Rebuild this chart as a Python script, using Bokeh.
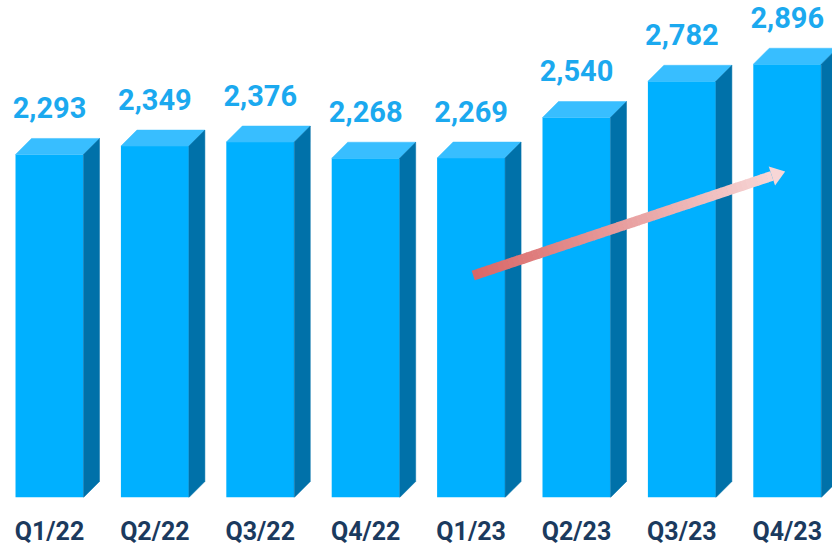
import numpy as np
from bokeh.plotting import figure
from bokeh.models import Range1d, FixedTicker
from bokeh.embed import file_html
from bokeh.resources import INLINE
from bokeh.core.properties import value

# ---- data ----
categories = ["Q1/22", "Q2/22", "Q3/22", "Q4/22", "Q1/23", "Q2/23", "Q3/23", "Q4/23"]
revenue = [2293, 2349, 2376, 2268, 2269, 2540, 2782, 2896]
value_labels = [f"{v:,}" for v in revenue]

# trend arrow (category index, value)
arrow_from = (4.02, 1484)
arrow_to = (6.98, 2179)

# ---- layout ----
FRAME_W, FRAME_H = 832, 497
X_START, X_END = -0.465, 7.429
Y_START, Y_END = 0, 3322
BAR_W = 0.645
DEPTH_PX = 16

FRONT = "#00B0FF"
TOP = "#38BEFF"
SIDE = "#0071A9"

px_x = FRAME_W / (X_END - X_START)
px_y = FRAME_H / (Y_END - Y_START)
ddx = DEPTH_PX / px_x
ddy = DEPTH_PX / px_y

p = figure(frame_width=FRAME_W, frame_height=FRAME_H,
           x_range=Range1d(X_START, X_END), y_range=Range1d(Y_START, Y_END),
           output_backend="svg", toolbar_location=None, y_axis_location=None,
           min_border=0, outline_line_color=None, background_fill_color="white")
p.grid.visible = False

idx = list(range(len(categories)))

# front faces
p.vbar(x=idx, top=revenue, width=BAR_W, bottom=0, fill_color=FRONT, line_color=None)

# top and side faces
top_xs, top_ys, side_xs, side_ys = [], [], [], []
for i, v in zip(idx, revenue):
    l, r = i - BAR_W / 2, i + BAR_W / 2
    top_xs.append([l, r, r + ddx, l + ddx])
    top_ys.append([v, v, v + ddy, v + ddy])
    side_xs.append([r, r + ddx, r + ddx, r])
    side_ys.append([0, ddy, v + ddy, v])
p.patches(top_xs, top_ys, fill_color=TOP, line_color=TOP, line_width=0.5)
p.patches(side_xs, side_ys, fill_color=SIDE, line_color=SIDE, line_width=0.5)

# value labels
p.text(x=idx, y=revenue, text=value_labels, text_align="center", text_baseline="alphabetic",
       y_offset=-(DEPTH_PX + 31), text_font=value("Roboto"), text_font_style="bold",
       text_font_size="29px", text_color="#1BA9EF")

# gradient arrow
c0 = np.array([217, 102, 102])
c1 = np.array([247, 214, 214])
x0p, y0p = arrow_from[0] * px_x, arrow_from[1] * px_y
x1p, y1p = arrow_to[0] * px_x, arrow_to[1] * px_y
L = np.hypot(x1p - x0p, y1p - y0p)
u = np.array([(x1p - x0p) / L, (y1p - y0p) / L])
n = np.array([-u[1], u[0]])
HEAD_L, HEAD_W, BODY_W = 14, 10, 5
N = 60
body_len = L - HEAD_L
axs, ays, cols = [], [], []
for k in range(N):
    t0 = body_len * k / N
    t1 = body_len * (k + 1) / N + 0.6
    a = np.array([x0p, y0p]) + u * t0
    b = np.array([x0p, y0p]) + u * min(t1, body_len)
    pts = [a + n * BODY_W, b + n * BODY_W, b - n * BODY_W, a - n * BODY_W]
    axs.append([q[0] / px_x for q in pts])
    ays.append([q[1] / px_y for q in pts])
    c = c0 + (c1 - c0) * (k + 0.5) / N
    cols.append("#%02x%02x%02x" % tuple(int(round(z)) for z in c))
base = np.array([x0p, y0p]) + u * body_len
tip = np.array([x1p, y1p])
head = [base + n * HEAD_W, tip, base - n * HEAD_W]
axs.append([q[0] / px_x for q in head])
ays.append([q[1] / px_y for q in head])
cols.append("#%02x%02x%02x" % tuple(c1))
p.patches(axs, ays, fill_color=cols, line_color=None)

# x axis with category labels
ax = p.xaxis[0]
ax.ticker = FixedTicker(ticks=idx)
ax.major_label_overrides = {i: c for i, c in zip(idx, categories)}
ax.axis_line_color = None
ax.major_tick_line_color = None
ax.minor_tick_line_color = None
ax.major_tick_out = 0
ax.major_tick_in = 0
ax.major_label_standoff = 19
ax.major_label_text_font = "Roboto"
ax.major_label_text_font_style = "bold"
ax.major_label_text_font_size = "25px"
ax.major_label_text_color = "#1B3A5E"

open("out.html", "w").write(file_html(p, INLINE))
